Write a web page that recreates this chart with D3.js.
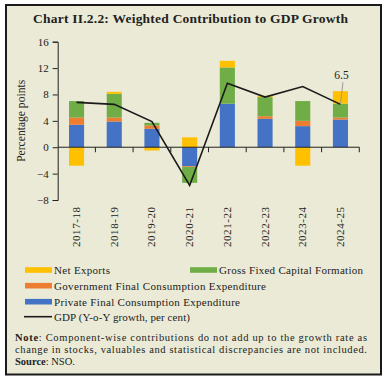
<!DOCTYPE html>
<html>
<head>
<meta charset="utf-8">
<script src="https://cdn.jsdelivr.net/npm/d3@7"></script>
<style>
  html, body { margin: 0; padding: 0; background: #fff; }
  svg { display: block; }
  text { font-family: "Liberation Serif", "DejaVu Serif", serif; fill: #222; }
</style>
</head>
<body>
<div id="container"></div>
<script>
const years = ["2017-18", "2018-19", "2019-20", "2020-21", "2021-22", "2022-23", "2023-24", "2024-25"];
const pfce = [3.4, 3.9, 2.8, -2.9, 6.6, 4.3, 3.2, 4.2];
const gfce = [1.1, 0.6, 0.5, -0.1, 0.0, 0.4, 0.8, 0.3];
const gfcf = [2.5, 3.6, 0.4, -2.4, 5.5, 2.9, 3.0, 2.1];
const netExports = [-2.8, 0.3, -0.5, 1.5, 1.0, 0.2, -2.8, 1.9];
const gdp = [6.8, 6.5, 3.9, -5.8, 9.7, 7.6, 9.2, 6.5];
const yTicks = [-8, -4, 0, 4, 8, 12, 16];

const w = 382;
const h = 378;

const seriesKeys = ["pfce", "gfce", "gfcf", "nx"];
const colors = { pfce: "#4472c4", gfce: "#ed7d31", gfcf: "#70ad47", nx: "#ffc000" };

const rows = years.map((y, i) => ({
    year: y, pfce: pfce[i], gfce: gfce[i], gfcf: gfcf[i], nx: netExports[i], gdp: gdp[i]
}));

const svg = d3.select("#container").append("svg")
    .attr("width", w)
    .attr("height", h);

// frame
svg.append("rect")
    .attr("x", 6).attr("y", 5)
    .attr("width", w - 7).attr("height", 369.5)
    .attr("fill", "#eaead6")
    .attr("stroke", "#1a1a1a")
    .attr("stroke-width", 2);

svg.append("text")
    .attr("x", 33).attr("y", 23)
    .attr("font-size", 13.5)
    .attr("font-weight", "bold")
    .attr("textLength", 315)
    .attr("fill", "#1f1f3a")
    .text("Chart II.2.2: Weighted Contribution to GDP Growth");

const xScale = d3.scaleBand().domain(years).range([57.7, 359.3])
    .paddingInner(0.6).paddingOuter(0.3);
const step = xScale.step();
const yScale = d3.scaleLinear().domain([-8, 16]).range([200, 41.7]);

// y axis
const yAxis = d3.axisLeft(yScale).tickValues(yTicks).tickSize(5).tickPadding(4);
const yAxisGroup = svg.append("g")
    .attr("transform", "translate(57.7,0)")
    .call(yAxis);
yAxisGroup.select(".domain").attr("stroke", "#222");
yAxisGroup.selectAll(".tick line").attr("stroke", "#222");
yAxisGroup.selectAll(".tick text")
    .attr("font-family", "Liberation Serif, serif")
    .attr("font-size", 11)
    .attr("fill", "#222");

svg.append("text")
    .attr("transform", "translate(25," + yScale(4) + ") rotate(-90)")
    .attr("text-anchor", "middle")
    .attr("font-size", 11.5)
    .attr("textLength", 82)
    .text("Percentage points");

// stacked bars
const stacked = d3.stack().keys(seriesKeys).offset(d3.stackOffsetDiverging)(rows);

svg.append("g").selectAll("g").data(stacked).enter()
    .append("g")
    .attr("fill", (s) => colors[s.key])
    .selectAll("rect").data((s) => s).enter()
    .append("rect")
    .attr("x", (d) => xScale(d.data.year))
    .attr("width", xScale.bandwidth())
    .attr("y", (d) => yScale(Math.max(d[0], d[1])))
    .attr("height", (d) => Math.abs(yScale(d[0]) - yScale(d[1])));

// x axis at zero
const xAxisGroup = svg.append("g");
xAxisGroup.append("line")
    .attr("x1", 57.7).attr("x2", 359.3)
    .attr("y1", yScale(0)).attr("y2", yScale(0))
    .attr("stroke", "#222");
xAxisGroup.selectAll(".xtick").data(years).enter()
    .append("line")
    .attr("class", "xtick")
    .attr("x1", (d) => xScale(d) + xScale.bandwidth() + (step - xScale.bandwidth()) / 2)
    .attr("x2", (d) => xScale(d) + xScale.bandwidth() + (step - xScale.bandwidth()) / 2)
    .attr("y1", yScale(0)).attr("y2", yScale(0) + 5)
    .attr("stroke", "#222");

svg.append("g").selectAll("text").data(years).enter()
    .append("text")
    .attr("transform", (d) => "translate(" + (xScale(d) + xScale.bandwidth() / 2 + 3.5) + ",207) rotate(-90)")
    .attr("text-anchor", "end")
    .attr("font-size", 11)
    .attr("textLength", 40)
    .text((d) => d);

// GDP line
const lineMaker = d3.line()
    .x((d) => xScale(d.year) + xScale.bandwidth() / 2)
    .y((d) => yScale(d.gdp));

svg.append("path")
    .datum(rows)
    .attr("d", lineMaker)
    .attr("fill", "none")
    .attr("stroke", "#1a1a1a")
    .attr("stroke-width", 1.6);

// label for last point
const last = rows[rows.length - 1];
const lx = xScale(last.year) + xScale.bandwidth() / 2;
svg.append("line")
    .attr("x1", lx + 2.5).attr("y1", yScale(last.gdp) - 22)
    .attr("x2", lx).attr("y2", yScale(last.gdp))
    .attr("stroke", "#999")
    .attr("stroke-width", 1);
svg.append("text")
    .attr("x", lx + 1).attr("y", yScale(last.gdp) - 25)
    .attr("text-anchor", "middle")
    .attr("font-size", 11.5)
    .attr("fill", "#333")
    .text(last.gdp.toFixed(1));

// legend
const legendItems = [
    { label: "Net Exports", key: "nx", x: 25, y: 270, len: 56 },
    { label: "Gross Fixed Capital Formation", key: "gfcf", x: 190, y: 270, len: 144 },
    { label: "Government Final Consumption Expenditure", key: "gfce", x: 25, y: 285.7, len: 212 },
    { label: "Private Final Consumption Expenditure", key: "pfce", x: 25, y: 301.7, len: 186 }
];
const legend = svg.append("g");
legendItems.forEach((it) => {
    legend.append("rect")
        .attr("x", it.x).attr("y", it.y - 2.8)
        .attr("width", 27).attr("height", 5.6)
        .attr("fill", colors[it.key]);
    legend.append("text")
        .attr("x", it.x + 29).attr("y", it.y + 3.8)
        .attr("font-size", 11)
        .attr("textLength", it.len)
        .text(it.label);
});
legend.append("line")
    .attr("x1", 24).attr("x2", 52)
    .attr("y1", 316.7).attr("y2", 316.7)
    .attr("stroke", "#1a1a1a")
    .attr("stroke-width", 1.6);
legend.append("text")
    .attr("x", 54).attr("y", 320.5)
    .attr("font-size", 11)
    .attr("textLength", 136)
    .text("GDP (Y-o-Y growth, per cent)");

// note
const note1 = svg.append("text").attr("x", 15).attr("y", 341).attr("font-size", 10.5)
    .attr("textLength", 352);
note1.append("tspan").attr("font-weight", "bold").text("Note");
note1.append("tspan").text(": Component-wise contributions do not add up to the growth rate as");
svg.append("text").attr("x", 15).attr("y", 353).attr("font-size", 10.5)
    .attr("textLength", 352)
    .text("change in stocks, valuables and statistical discrepancies are not included.");
const src = svg.append("text").attr("x", 15).attr("y", 365).attr("font-size", 10.5);
src.append("tspan").attr("font-weight", "bold").text("Source");
src.append("tspan").text(": NSO.");
</script>
</body>
</html>
